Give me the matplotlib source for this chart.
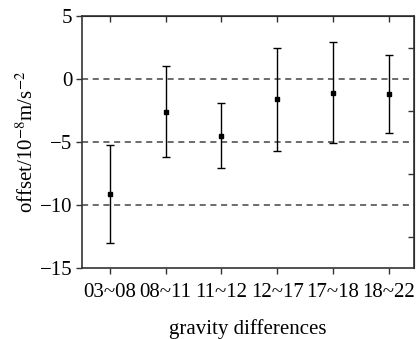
import matplotlib; matplotlib.use("Agg")
import matplotlib.pyplot as plt
import numpy as np

labels = ["03~08", "08~11", "11~12", "12~17", "17~18", "18~22"]
offset = [-9.1, -2.6, -4.5, -1.6, -1.1, -1.2]
err = [3.9, 3.6, 2.6, 4.1, 4.0, 3.1]
grid_y = [0, -5, -10]
right_ticks = [2.5, -2.5, -7.5, -12.5]

plt.rcParams["font.family"] = ["Liberation Serif", "DejaVu Serif"]
plt.rcParams["mathtext.fontset"] = "stix"

fig = plt.figure(figsize=(4.18, 3.39), dpi=100)
ax = fig.add_axes([82/418, 1-268/339, (414-82)/418, (268-16)/339])

x = np.arange(1, len(labels)+1)
for g in grid_y:
    ax.axhline(g, color="#444444", ls=(0, (4, 3)), lw=1.1, zorder=1)
ax.errorbar(x, offset, yerr=err, fmt="s", color="black", ms=3.5, capsize=3,
            elinewidth=1.0, capthick=1.0, zorder=3)

ax.set_xlim(0.5, 6.45)
ax.set_ylim(-15, 5)
ax.set_yticks([5, 0, -5, -10, -15])
ax.set_yticklabels(["5", "0", "\u22125", "\u221210", "\u221215"])
ax.set_xticks(x)
ax.set_xticklabels(labels)
ax.tick_params(axis="both", labelsize=15, direction="out", length=4, width=1.0,
               color="#333333", pad=3)
ax.tick_params(axis="x", pad=7)
for s in ax.spines.values():
    s.set_linewidth(1.2); s.set_color("#333333")

# inward ticks on top and right
sec = ax.secondary_xaxis("top")
sec.set_xticks(x); sec.set_xticklabels([])
sec.tick_params(direction="in", length=4, width=1.0, color="#333333")
sry = ax.secondary_yaxis("right")
sry.set_yticks(right_ticks); sry.set_yticklabels([])
sry.tick_params(direction="in", length=4, width=1.0, color="#333333")

ax.set_xlabel("gravity differences", fontsize=15, labelpad=12)
ax.set_ylabel("offset/10$^{-8}$m/s$^{-2}$", fontsize=15, labelpad=1)

fig.savefig("out.png", dpi=100)
